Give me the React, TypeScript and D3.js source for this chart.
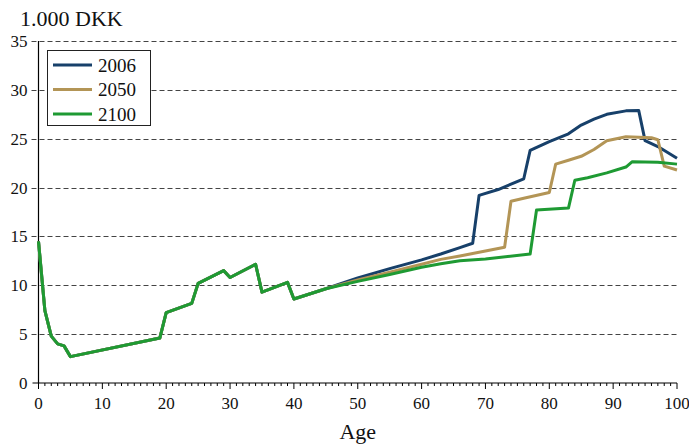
import React from 'react';
import * as d3 from 'd3';

// shared part of all three profiles (ages 0-45)
const baseAges = [0, 1, 2, 3, 4, 5, 19, 20, 24, 25, 29, 30, 34, 35, 39, 40, 45];
const baseValues = [14.5, 7.4, 4.8, 4.0, 3.8, 2.7, 4.6, 7.2, 8.15, 10.2, 11.5, 10.8, 12.15, 9.3, 10.3, 8.6, 9.65];

const ages2006 = [50, 55, 60, 63, 66, 68, 69, 72, 76, 77, 80, 83, 85, 87, 89, 92, 94, 95, 97, 100];
const values2006 = [10.75, 11.7, 12.6, 13.2, 13.85, 14.3, 19.2, 19.8, 20.9, 23.8, 24.7, 25.5, 26.4, 27.0, 27.5, 27.85, 27.9, 24.8, 24.2, 23.0];

const ages2050 = [50, 55, 60, 63, 66, 70, 73, 74, 76, 80, 81, 83, 85, 87, 89, 92, 96, 97, 98, 100];
const values2050 = [10.55, 11.35, 12.15, 12.65, 13.0, 13.5, 13.9, 18.6, 18.9, 19.5, 22.4, 22.8, 23.2, 23.9, 24.8, 25.2, 25.1, 24.9, 22.2, 21.8];

const ages2100 = [50, 55, 60, 63, 66, 70, 77, 78, 83, 84, 86, 89, 92, 93, 97, 100];
const values2100 = [10.4, 11.1, 11.85, 12.2, 12.5, 12.7, 13.2, 17.7, 17.9, 20.75, 21.0, 21.5, 22.1, 22.65, 22.6, 22.4];

const seriesNames = ['2006', '2050', '2100'];
const seriesColors = ['#17406a', '#b39556', '#1e9a33'];

const yTicks = [0, 5, 10, 15, 20, 25, 30, 35];
const xTicks = [0, 10, 20, 30, 40, 50, 60, 70, 80, 90, 100];

const W = 689, H = 445;
const margin = { left: 38.5, right: 12, top: 41, bottom: 62 };
const font = '"Liberation Serif", Tinos, "Times New Roman", serif';

export default function App() {
  const x = d3.scaleLinear().domain([0, 100]).range([margin.left, W - margin.right]);
  const y = d3.scaleLinear().domain([0, 35]).range([H - margin.bottom, margin.top]);

  const build = (ages: number[], vals: number[]) =>
    baseAges.map((a, i) => [a, baseValues[i]] as [number, number])
      .concat(ages.map((a, i) => [a, vals[i]] as [number, number]));

  const series = [
    build(ages2006, values2006),
    build(ages2050, values2050),
    build(ages2100, values2100),
  ];

  const line = d3.line<[number, number]>().x(d => x(d[0])).y(d => y(d[1]));
  const minor = d3.range(0, 101);

  return (
    <div style={{ position: 'absolute', left: 0, top: 0 }}>
      <svg width={W} height={H} style={{ display: 'block', background: '#fff', fontFamily: font }}>
        {/* grid */}
        {yTicks.filter(t => t > 0).map(t => (
          <line key={'g' + t} x1={x(0) - 7} x2={x(100)} y1={Math.round(y(t)) + 0.5} y2={Math.round(y(t)) + 0.5}
            stroke="#444" strokeWidth={1} strokeDasharray="5,3" />
        ))}
        {/* y labels */}
        {yTicks.map(t => (
          <text key={'yl' + t} x={x(0) - 11} y={y(t)} dy="0.35em" textAnchor="end" fontSize={17} fill="#111">{t}</text>
        ))}
        <text x={20} y={26} fontSize={22} fill="#111">1.000 DKK</text>
        {/* axes */}
        <line x1={x(0)} x2={x(0)} y1={y(35)} y2={y(0)} stroke="#000" strokeWidth={1.2} />
        <line x1={x(0) - 6} x2={x(100)} y1={y(0)} y2={y(0)} stroke="#000" strokeWidth={1.2} />
        {minor.map(a => (
          <line key={'t' + a} x1={x(a)} x2={x(a)} y1={y(0)} y2={y(0) + (a % 10 === 0 ? 6 : 3)} stroke="#000" strokeWidth={1} />
        ))}
        {xTicks.map(t => (
          <text key={'xl' + t} x={x(t)} y={y(0) + 26} textAnchor="middle" fontSize={17} fill="#111">{t}</text>
        ))}
        <text x={x(50)} y={H - 6} textAnchor="middle" fontSize={22} fill="#111">Age</text>
        {/* lines */}
        {series.map((s, i) => (
          <path key={'s' + i} d={line(s) || ''} fill="none" stroke={seriesColors[i]} strokeWidth={3} strokeLinejoin="round" />
        ))}
        {/* legend */}
        <rect x={47.5} y={50.5} width={103} height={75} fill="#fff" stroke="#222" strokeWidth={1} />
        {seriesNames.map((n, i) => (
          <g key={'l' + n}>
            <line x1={53} x2={92} y1={65 + i * 24.5} y2={65 + i * 24.5} stroke={seriesColors[i]} strokeWidth={3} />
            <text x={98} y={65 + i * 24.5} dy="0.35em" fontSize={19} fill="#111">{n}</text>
          </g>
        ))}
      </svg>
    </div>
  );
}
